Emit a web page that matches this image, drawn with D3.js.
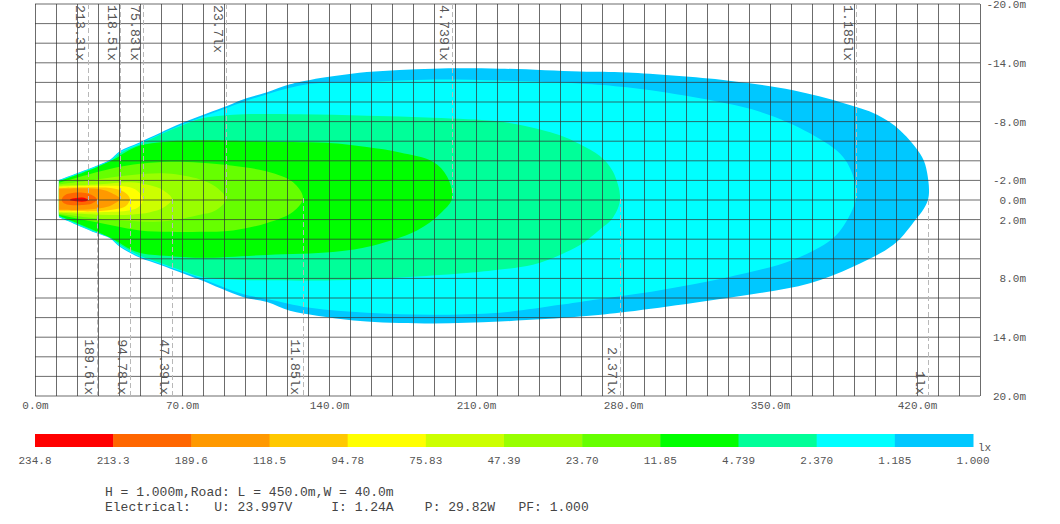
<!DOCTYPE html>
<html><head><meta charset="utf-8">
<script src="https://cdn.jsdelivr.net/npm/d3@7"></script>
<style>
body{margin:0;background:#fff;}
svg{display:block;}
</style>
</head><body>
<svg id="c" width="1060" height="524"></svg>
<script>
// ---------------- DATA ----------------
// isolux levels (lx), innermost first
const isoLevels = [213.3, 189.6, 118.5, 94.78, 75.83, 47.39, 23.7, 11.85, 4.739, 2.37, 1.185, 1];
const isoLabels = ["213.3lx","189.6lx","118.5lx","94.78lx","75.83lx","47.39lx","23.7lx","11.85lx","4.739lx","2.37lx","1.185lx","1lx"];
const labelSides = ["top","bottom","top","bottom","top","bottom","top","bottom","top","bottom","top","bottom"];

// legend
const legendLabels = ["234.8","213.3","189.6","118.5","94.78","75.83","47.39","23.70","11.85","4.739","2.370","1.185","1.000"];
const legendColors = ["#ff0000","#ff6600","#ff9900","#ffc800","#ffff00","#ccff00","#99ff00","#66ff00","#00ff00","#00ff99","#00ffff","#00c8ff"];

// axis ticks
const xTicks = [0,70,140,210,280,350,420];
const yTicks = [-20,-14,-8,-2,0,2,8,14,20];

// isolux outlines [distance m, lateral m] (top edge left->tip, bottom edge tip->left)
const iso213300 = [[16.7,-0.05],[19.5,-0.2],[22.4,-0.25],[24.3,-0.15],[25.2,0],[24.3,0.12],[22.4,0.17],[19.5,0.12],[16.7,0.03]];
const iso189600 = [[12.9,-0.15],[15.2,-0.6],[22.9,-0.75],[27.1,-0.5],[29.5,-0.05],[27.1,0.35],[22.9,0.5],[15.2,0.45],[12.9,0.15]];
const iso118500 = [[11.4,-1.15],[22.9,-1.2],[31,-1.1],[36.7,-0.7],[40.5,-0.1],[36.7,0.5],[31,0.85],[22.9,1.0],[11.4,1.0]];
const iso94780 = [[11.4,-1.25],[28.6,-1.3],[38.1,-1.15],[43.3,-0.7],[45.2,-0.1],[43.3,0.6],[38.1,0.95],[28.6,1.15],[11.4,1.1]];
const iso75830 = [[11.4,-1.35],[31,-1.45],[45.2,-1.3],[49.5,-0.8],[51.4,-0.1],[49.5,0.7],[45.2,1.05],[31,1.25],[11.4,1.2]];
const iso47390 = [[11.4,-1.45],[31,-1.6],[45.2,-1.8],[54.8,-1.5],[61,-1.0],[65.2,-0.1],[61,0.8],[54.8,1.25],[45.2,1.5],[31,1.5],[11.4,1.3]];
const iso23700 = [[11.4,-1.6],[26.2,-2.0],[46.2,-2.55],[62.9,-2.7],[78.6,-2.1],[85.7,-1.4],[91,-0.1],[85.7,1.1],[78.6,1.5],[62.9,2.15],[46.2,2.15],[26.2,1.8],[11.4,1.4]];
const iso11850 = [[11.4,-1.75],[26.2,-2.65],[38.1,-3.3],[50,-3.7],[64.3,-3.9],[78.6,-3.8],[94.3,-3.5],[110.5,-2.9],[122.9,-1.8],[127.6,-0.2],
  [122.9,1.2],[110.5,2.35],[94.3,3.1],[78.6,3.25],[64.3,3.25],[50,3.1],[38.1,2.65],[26.2,2.15],[11.4,1.5]];
const iso4739 = [[11.4,-1.9],[26.2,-3.05],[38.1,-4.2],[42.9,-4.85],[50,-5.55],[61.9,-5.95],[78.6,-6.1],[110.5,-5.95],[141.9,-5.8],[158,-5.4],[173.8,-4.85],[189.5,-3.9],[196.2,-2.4],[198.6,-0.15],
  [192.9,1.4],[181.9,3.1],[158,4.8],[141.9,5.3],[110.5,5.6],[78.6,5.9],[61.9,5.7],[50,5.4],[45.2,5.0],[38.1,4.1],[26.2,2.9],[11.4,1.6]];
const iso2370 = [[11.4,-1.95],[30,-3.45],[35.7,-3.95],[40.5,-4.8],[50,-5.7],[61.9,-6.9],[70,-7.6],[78.6,-8.3],[94.3,-8.7],[126.2,-8.75],[158,-8.6],[189.5,-8.4],[221.4,-8.0],[240.5,-7.2],[250,-6.6],[259.5,-5.7],[269,-4.5],[275.2,-2.9],[278.6,-0.1],
  [275.2,1.8],[269,3.0],[259.5,4.6],[250,5.6],[237.1,6.6],[221.4,7.1],[205.7,7.45],[173.8,7.9],[141.9,8.2],[110.5,8.2],[94.3,8.1],[78.6,7.8],[70,7.2],[59.5,6.4],[50,5.7],[40.5,4.6],[35.7,3.8],[29.5,3.3],[11.4,1.65]];
const iso1185 = [[11.4,-2.0],[30,-3.5],[35.7,-4.0],[40.5,-4.9],[50,-5.8],[70,-7.7],[78.6,-8.4],[91.4,-9.4],[110.5,-10.8],[131,-11.85],[158,-12.05],[189.5,-12.3],[221.4,-12.2],[259.5,-11.9],[281.9,-11.5],[313.3,-10.5],[345.2,-9.0],[369,-6.8],[384.8,-4.4],[390.5,-1.8],[391,-0.2],
  [388.6,1.3],[380.5,3.8],[361,6.1],[329.5,7.9],[297.6,9.2],[265.7,10.2],[250,10.7],[221.4,11.5],[189.5,11.7],[158,11.5],[131,11.0],[110.5,10.1],[99,9.6],[78.6,7.95],[70,7.3],[59.5,6.5],[50,5.8],[40.5,4.7],[35.7,3.85],[29.5,3.35],[11.4,1.7]];
const iso1000 = [[11.4,-2.05],[30,-3.55],[35.7,-4.1],[40.5,-5.0],[50,-5.9],[70,-7.85],[91.4,-9.6],[101,-10.4],[110.5,-11.0],[121.4,-11.8],[131,-12.25],[158,-13.05],[189.5,-13.4],[221.4,-13.4],[259.5,-13.1],[281.9,-13.0],[329.5,-12.2],[361,-11.2],[384.8,-9.9],[401,-8.7],[412,-7.1],[422.4,-4.4],[424.8,-2.8],[425.2,0],
  [418.1,2.35],[408.6,4.6],[389.5,6.8],[369,8.5],[345.2,9.5],[313.3,10.5],[281.9,11.4],[259.5,11.9],[221.4,12.4],[189.5,12.6],[158,12.4],[134.3,11.8],[121.4,11.3],[110.5,10.4],[99,9.9],[78.6,8.15],[70,7.45],[59.5,6.6],[50,5.9],[40.5,4.8],[35.7,3.9],[29.5,3.4],[11.4,1.75]];
const isoShapes = [iso213300, iso189600, iso118500, iso94780, iso75830, iso47390, iso23700, iso11850, iso4739, iso2370, iso1185, iso1000];

const infoLine1 = "H = 1.000m,Road: L = 450.0m,W = 40.0m";
const infoLine2 = "Electrical:   U: 23.997V     I: 1.24A    P: 29.82W   PF: 1.000";

// ---------------- DRAW ----------------
const FONT = "'Liberation Mono','Courier New',monospace";
const svg = d3.select("#c");
svg.append("rect").attr("width",1060).attr("height",524).attr("fill","#fff");

const x = d3.scaleLinear().domain([0,450]).range([35,980]);
const y = d3.scaleLinear().domain([-20,20]).range([4,396]);

// filled isolux regions, outermost first
const lineOpen = d3.line().x(d=>x(d[0])).y(d=>y(d[1])).curve(d3.curveCatmullRom.alpha(0.5));
const lineClosed = d3.line().x(d=>x(d[0])).y(d=>y(d[1])).curve(d3.curveCatmullRomClosed.alpha(0.5));
const order = d3.range(isoShapes.length).reverse();
svg.append("g").selectAll("path").data(order).join("path")
  .attr("d", i => {
    const pts = isoShapes[i];
    return pts[0][0] > 12 ? lineClosed(pts) : lineOpen(pts) + "Z";
  })
  .attr("fill", i => legendColors[i])
  .attr("stroke", "none");

// grid
const grid = svg.append("g").attr("stroke","#333").attr("stroke-opacity",0.72).attr("stroke-width",1);
grid.selectAll("line.v").data(d3.range(0,451,10)).join("line").attr("class","v")
  .attr("x1",d=>Math.round(x(d))+0.5).attr("x2",d=>Math.round(x(d))+0.5)
  .attr("y1",y(-20)).attr("y2",y(20));
grid.selectAll("line.h").data(d3.range(-20,21,2)).join("line").attr("class","h")
  .attr("x1",x(0)).attr("x2",x(450))
  .attr("y1",d=>y(d)).attr("y2",d=>y(d));

// isolux markers
const markers = isoShapes.map((pts,i) => {
  const tip = pts.reduce((a,b)=> b[0]>a[0]?b:a);
  return {tx: tip[0], ty: tip[1], label: isoLabels[i], side: labelSides[i]};
});
const mg = svg.append("g");
mg.selectAll("line").data(markers).join("line")
  .attr("x1",d=>Math.round(x(d.tx))+0.5).attr("x2",d=>Math.round(x(d.tx))+0.5)
  .attr("y1",d=> d.side==="top" ? y(-20) : y(d.ty))
  .attr("y2",d=> d.side==="top" ? y(d.ty) : y(20))
  .attr("stroke","#b8b8b8").attr("stroke-width",1).attr("stroke-dasharray","5,3");
mg.selectAll("text").data(markers).join("text")
  .attr("transform",d=> d.side==="top"
      ? `translate(${Math.round(x(d.tx))-12},${y(-20)+1}) rotate(90)`
      : `translate(${Math.round(x(d.tx))-12},${y(20)-1}) rotate(90)`)
  .attr("text-anchor",d=> d.side==="top" ? "start" : "end")
  .attr("font-family",FONT).attr("font-size","13.3px").attr("fill","#555")
  .text(d=>d.label);

// axes
const xAxis = svg.append("g").attr("transform",`translate(0,${y(20)})`)
  .call(d3.axisBottom(x).tickValues(xTicks).tickSize(0).tickPadding(5).tickFormat(d=>d.toFixed(1)+"m"));
const yAxis = svg.append("g").attr("transform","translate(1026,0)")
  .call(d3.axisLeft(y).tickValues(yTicks).tickSize(0).tickPadding(0).tickFormat(d=>d.toFixed(1)+"m"));
[xAxis,yAxis].forEach(a=>{
  a.select(".domain").remove();
  a.attr("font-family",FONT).attr("font-size","11px");
  a.selectAll("text").attr("fill","#555");
});

// legend
const xl = d3.scaleLinear().domain([0,12]).range([35,973]);
const lg = svg.append("g");
lg.selectAll("rect").data(legendColors).join("rect")
  .attr("x",(d,i)=>xl(i)).attr("width",(d,i)=>xl(i+1)-xl(i)+0.5)
  .attr("y",434).attr("height",13).attr("fill",d=>d);
lg.selectAll("text").data(legendLabels).join("text")
  .attr("x",(d,i)=>xl(i)).attr("y",464)
  .attr("text-anchor","middle").attr("font-family",FONT).attr("font-size","11px").attr("fill","#555")
  .text(d=>d);
lg.append("text").attr("x",978).attr("y",451).attr("font-family",FONT).attr("font-size","11px").attr("fill","#555").text("lx");

// info text
const info = svg.append("g").attr("font-family",FONT).attr("font-size","13px").attr("fill","#444");
info.append("text").attr("x",105).attr("y",496).attr("xml:space","preserve").style("white-space","pre").text(infoLine1);
info.append("text").attr("x",105).attr("y",511).attr("xml:space","preserve").style("white-space","pre").text(infoLine2);
</script>
</body></html>
